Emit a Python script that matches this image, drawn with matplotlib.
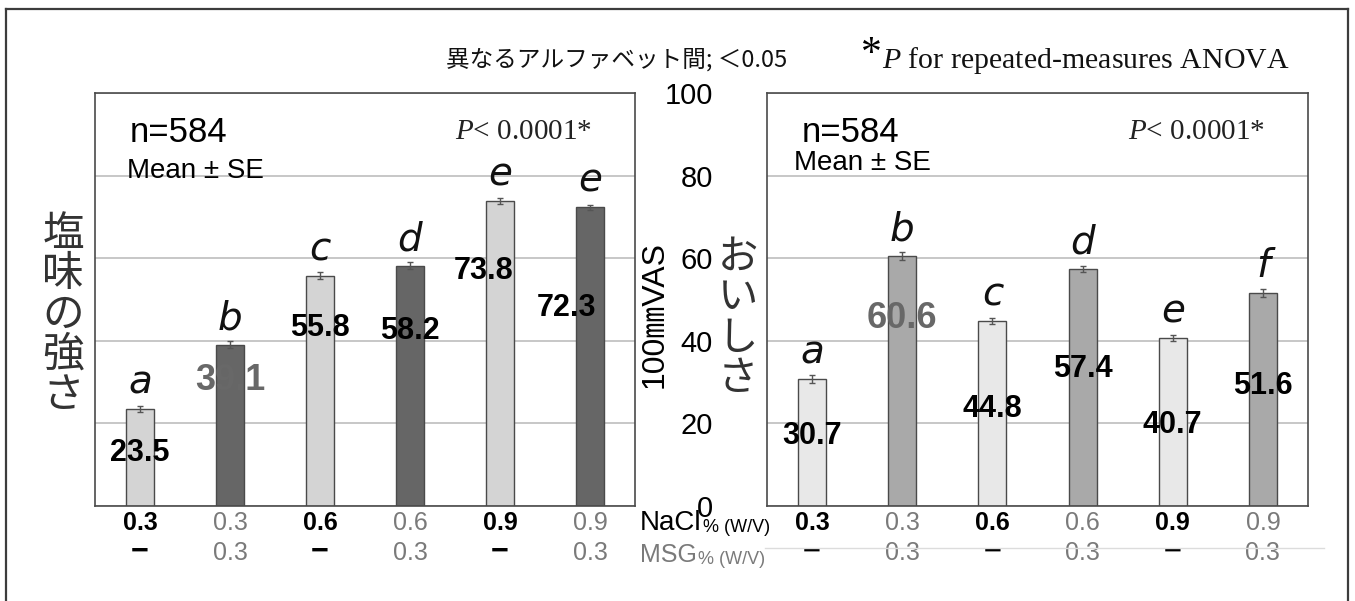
import matplotlib
matplotlib.use("Agg")
import matplotlib.pyplot as plt
from matplotlib import transforms
from matplotlib.lines import Line2D

# ---- data ----
nacl = ["0.3", "0.3", "0.6", "0.6", "0.9", "0.9"]
msg = ["−", "0.3", "−", "0.3", "−", "0.3"]
salty = [23.5, 39.1, 55.8, 58.2, 73.8, 72.3]
salty_se = [0.8, 0.8, 0.8, 0.8, 0.7, 0.7]
salty_letters = ["a", "b", "c", "d", "e", "e"]
tasty = [30.7, 60.6, 44.8, 57.4, 40.7, 51.6]
tasty_se = [0.9, 1.0, 0.8, 0.7, 0.8, 0.9]
tasty_letters = ["a", "b", "c", "d", "e", "f"]
yticks = [0, 20, 40, 60, 80, 100]

# where the value labels sit (data units), as in the original
salty_label_y = [12.8, 30.5, 43.0, 42.4, 57.0, 47.9]
salty_label_dx = [0, 0, 0, 0, -0.18, -0.26]
tasty_label_y = [17.0, 45.3, 23.5, 33.2, 19.5, 29.0]
tasty_label_dx = [0, 0, 0, 0, 0, 0]

W, H = 1355, 601
SANS = ["Liberation Sans", "DejaVu Sans"]
SERIF = ["Liberation Serif", "DejaVu Serif"]
JP = ["Noto Sans CJK JP", "DejaVu Sans"]
GRAY_TXT = "#7a7a7a"

plt.rcParams["mathtext.fontset"] = "custom"
plt.rcParams["mathtext.rm"] = "Liberation Serif"
plt.rcParams["mathtext.it"] = "Liberation Serif:italic"


def fx(px):
    return px / W


def fy(py):
    return 1 - py / H


fig = plt.figure(figsize=(W / 100, H / 100), dpi=100)

# outer frame (runs off the bottom of the picture)
frame_kw = dict(color="#3c3c3c", lw=1.6, transform=fig.transFigure, clip_on=False)
fig.add_artist(Line2D([fx(6), fx(6)], [fy(9), -0.1], **frame_kw))
fig.add_artist(Line2D([fx(1348), fx(1348)], [fy(9), -0.1], **frame_kw))
fig.add_artist(Line2D([fx(6), fx(1348)], [fy(9), fy(9)], **frame_kw))
fig.add_artist(Line2D([fx(765), fx(1324)], [fy(548), fy(548)], color="#dcdcdc", lw=1,
                      transform=fig.transFigure))

ax1 = fig.add_axes([fx(95), fy(506), 540 / W, 413 / H])
ax2 = fig.add_axes([fx(767), fy(506), 541 / W, 413 / H])


def draw_panel(ax, values, errs, letters, colors, label_y, label_dx, label_colors):
    x = list(range(len(values)))
    ax.bar(x, values, width=0.31, color=colors, edgecolor="#4a4a4a", linewidth=1.0, zorder=2)
    ax.errorbar(x, values, yerr=errs, fmt="none", ecolor="#555555", elinewidth=1,
                capsize=2.5, capthick=1, zorder=3)
    ax.set_xlim(-0.5, 5.5)
    ax.set_ylim(0, 100)
    ax.set_yticks(yticks)
    ax.set_xticks([])
    ax.yaxis.grid(True, color="#bdbdbd", lw=1.2)
    ax.set_axisbelow(True)
    for s in ax.spines.values():
        s.set_color("#4a4a4a")
        s.set_linewidth(1.2)
    for i, v in enumerate(values):
        ax.text(i, v + 6.4, letters[i], ha="center", va="center", fontsize=28,
                style="italic", family="DejaVu Sans", color="#111111", zorder=4)
        gray = label_colors[i] != "black"
        ax.text(i + label_dx[i], label_y[i], "{:.1f}".format(v), ha="center", va="center",
                fontsize=26 if gray else 22, fontweight="bold", family=SANS,
                color=label_colors[i], zorder=4)
    # category labels under the bars
    tr = transforms.blended_transform_factory(ax.transData, fig.transFigure)
    for i in x:
        light = i % 2 == 0
        ax.text(i, fy(523), nacl[i], transform=tr, ha="center", va="center", fontsize=18,
                family=SANS, fontweight="bold" if light else "normal",
                color="black" if light else GRAY_TXT)
        if light:
            ax.text(i, fy(552), msg[i], transform=tr, ha="center", va="center",
                    fontsize=22, fontweight="bold", family=SANS, color="black")
        else:
            ax.text(i, fy(553), msg[i], transform=tr, ha="center", va="center",
                    fontsize=18, family=SANS, color=GRAY_TXT)


draw_panel(ax1, salty, salty_se, salty_letters, ["#d4d4d4", "#666666"] * 3,
           salty_label_y, salty_label_dx, ["black", "#686868", "black", "black", "black", "black"])
draw_panel(ax2, tasty, tasty_se, tasty_letters, ["#e8e8e8", "#a9a9a9"] * 3,
           tasty_label_y, tasty_label_dx, ["black", "#686868", "black", "black", "black", "black"])

ax1.tick_params(axis="y", length=0, labelleft=False)
ax2.tick_params(axis="y", length=0, pad=39, labelsize=21)
for lab in ax2.get_yticklabels():
    lab.set_family(SANS)

# panel annotations
for ax in (ax1, ax2):
    ax.text(0.065, 0.905, "n=584", transform=ax.transAxes, ha="left", va="center",
            fontsize=25, family=SANS)
    ax.text(0.92, 0.905, r"$P$< 0.0001*", transform=ax.transAxes, ha="right", va="center",
            fontsize=21, family=SERIF, color="#222222")
ax1.text(0.06, 0.81, "Mean ± SE", transform=ax1.transAxes, ha="left", va="center",
         fontsize=20, family=SANS)
ax2.text(0.05, 0.83, "Mean ± SE", transform=ax2.transAxes, ha="left", va="center",
         fontsize=20, family=SANS)

# vertical Japanese axis titles
fig.text(fx(63), fy(315), "\n".join("塩味の強さ"), ha="center", va="center", fontsize=30,
         family=JP, color="#333333", linespacing=0.98)
fig.text(fx(738), fy(318), "\n".join("おいしさ"), ha="center", va="center", fontsize=29,
         family=JP, color="#333333", linespacing=0.98)
fig.text(fx(655), fy(314), "100㎜VAS", rotation=90, ha="center", va="center", fontsize=23,
         family=["Liberation Sans", "Noto Sans CJK JP"])

# row titles: the unit sits right after the big word
renderer = fig.canvas.get_renderer()
t_nacl = fig.text(fx(640), fy(523), "NaCl", ha="left", va="center", fontsize=20, family=SANS)
t_msg = fig.text(fx(640), fy(555), "MSG", ha="left", va="center", fontsize=18, family=SANS,
                 color=GRAY_TXT)
x_end = t_nacl.get_window_extent(renderer).x1
fig.text(x_end / W + 0.001, fy(528), "% (W/V)", ha="left", va="center", fontsize=13,
         family=SANS)
x_end = t_msg.get_window_extent(renderer).x1
fig.text(x_end / W + 0.001, fy(559), "% (W/V)", ha="left", va="center", fontsize=13,
         family=SANS, color=GRAY_TXT)

# header
fig.text(fx(446), fy(60), "異なるアルファベット間; ＜0.05", ha="left", va="center", fontsize=17,
         family=JP, color="#111111")
fig.text(fx(861), fy(55), "*", ha="left", va="center", fontsize=30, family=SERIF)
fig.text(fx(882), fy(60), r"$P$ for repeated-measures ANOVA", ha="left", va="center",
         fontsize=21.5, family=SERIF, color="#111111")

fig.savefig("out.png", dpi=100)
